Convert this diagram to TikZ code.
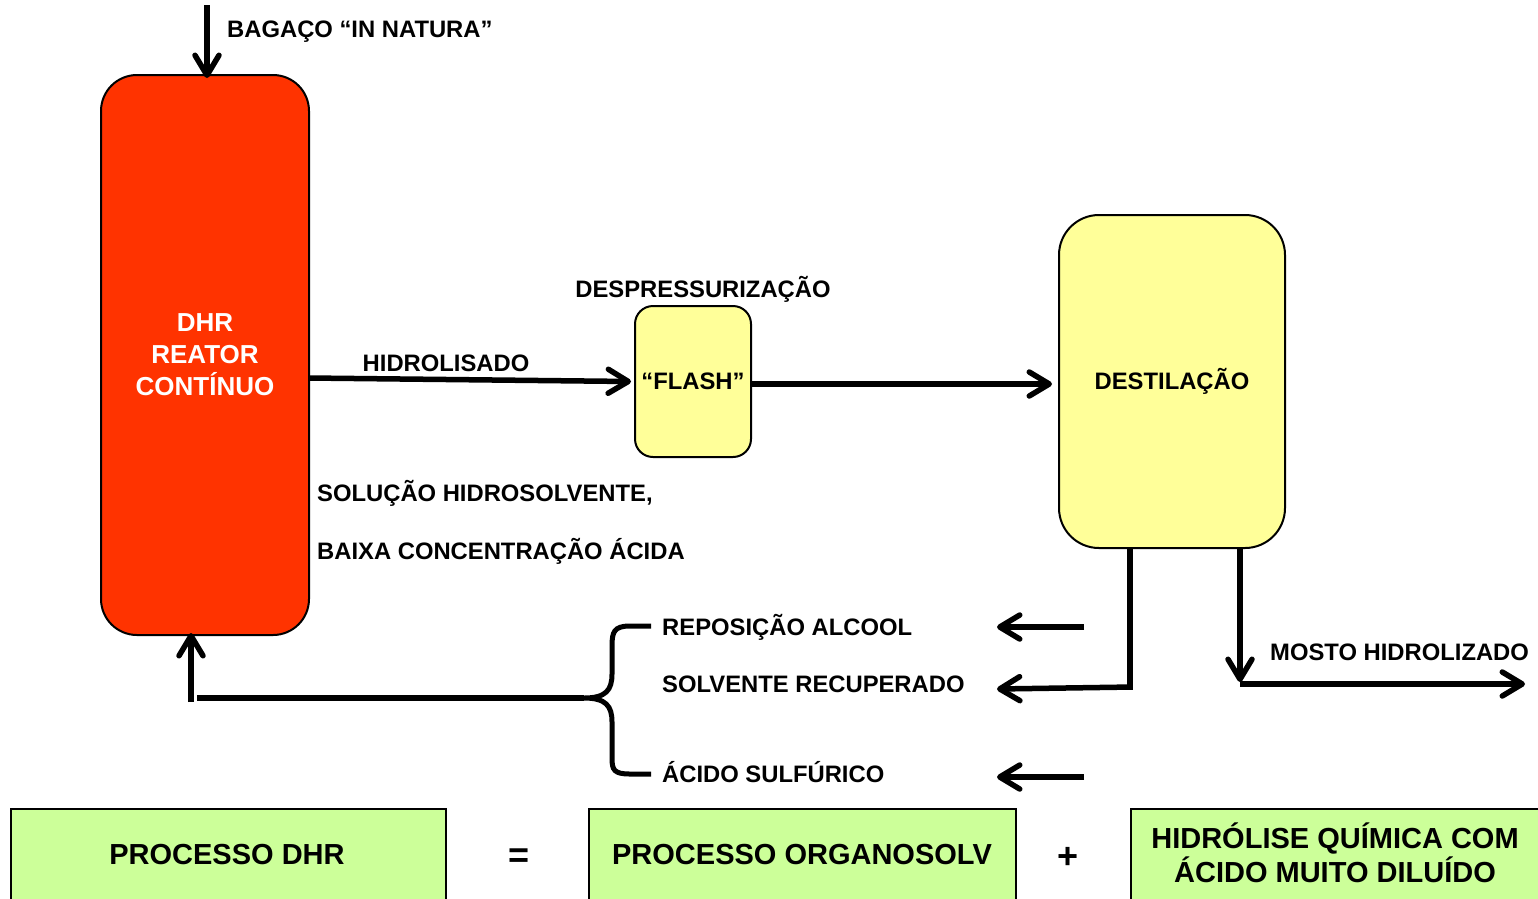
\documentclass[tikz,border=0pt]{standalone}
\usepackage{fontspec}
\setmainfont{Liberation Sans}
\usetikzlibrary{arrows.meta}
\definecolor{reactred}{HTML}{FF3300}
\definecolor{flashyel}{HTML}{FFFF99}
\definecolor{boxgreen}{HTML}{CCFF99}
\tikzset{
  lbl/.style={font=\bfseries\fontsize{23.8}{26}\selectfont, inner sep=0pt},
  arr/.style={line width=5.5pt, -{Straight Barb[round, length=20pt 0,width=24pt 0]}},
  flow/.style={line width=5.5pt},
  reactorbox/.style={draw=black, line width=2pt, fill=reactred, rounded corners=36pt, minimum width=208pt, minimum height=560pt, text=white, align=center, font=\bfseries\fontsize{26}{32}\selectfont},
  flashbox/.style={draw=black, line width=2pt, fill=flashyel, rounded corners=18pt, minimum width=116pt, minimum height=151pt, font=\bfseries\fontsize{23.8}{26}\selectfont},
  destbox/.style={draw=black, line width=2pt, fill=flashyel, rounded corners=40pt, minimum width=226pt, minimum height=333pt, font=\bfseries\fontsize{23.8}{26}\selectfont},
  greenbox/.style={draw=black, line width=1.5pt, fill=boxgreen, minimum height=96pt, anchor=north west, inner sep=0pt},
  bigtxt/.style={font=\bfseries\fontsize{29}{34}\selectfont, align=center, inner sep=0pt},
  optxt/.style={font=\bfseries\fontsize{36}{40}\selectfont, inner sep=0pt}
}
\begin{document}
\begin{tikzpicture}[x=1pt,y=-1pt]
\useasboundingbox (0,0) rectangle (1538,898);
\fill[white] (0,0) rectangle (1538,898);

% main nodes
\node[reactorbox] (dhr) at (205,355) {DHR\\REATOR\\CONTÍNUO};
\node[flashbox] (flash) at (693,381.5) {“FLASH”};
\node[destbox] (dest) at (1172,381.5) {DESTILAÇÃO};

% top input
\coordinate (bagin) at (207,5);
\draw[arr] (bagin) -- (207,78);
\node[lbl, anchor=west] (bagaco) at (227,32) {BAGAÇO “IN NATURA”};

% hidrolisado
\coordinate (hidstart) at (309,378);
\draw[arr] (hidstart) -- ([xshift=-3pt]flash.west);
\node[lbl] (hidlbl) at (446,363) {HIDROLISADO};
\node[lbl] (desplbl) at (703,289) {DESPRESSURIZAÇÃO};

% flash -> destilacao
\draw[arr] ([yshift=-2.5pt]flash.east) -- ([xshift=-6pt,yshift=-2.5pt]dest.west);

% solution labels
\node[lbl, anchor=west] (sol1) at (317,493) {SOLUÇÃO HIDROSOLVENTE,};
\node[lbl, anchor=west] (sol2) at (317,551) {BAIXA CONCENTRAÇÃO ÁCIDA};

% recycle streams
\coordinate (d1) at (1130,548);
\coordinate (d1b) at (1130,687);
\coordinate (solvend) at (997,689);
\draw[flow] (d1) -- (1130,689.75);
\draw[arr] (1132.75,687) -- (solvend);
\coordinate (repstart) at (1084,627);
\coordinate (repend) at (997,627);
\draw[arr] (repstart) -- (repend);
\coordinate (acstart) at (1084,777);
\coordinate (acend) at (997,777);
\draw[arr] (acstart) -- (acend);

\node[lbl, anchor=west] (rep) at (662,627) {REPOSIÇÃO ALCOOL};
\node[lbl, anchor=west] (solv) at (662,684) {SOLVENTE RECUPERADO};
\node[lbl, anchor=west] (acido) at (662,772) {ÁCIDO SULFÚRICO};

% brace
\draw[line width=5pt, line cap=butt]
  (651,626) -- (630,626) .. controls (614,626) and (612,632) .. (612,646)
  -- (612,674) .. controls (612,690) and (606,698) .. (584,698)
  .. controls (606,698) and (612,706) .. (612,722)
  -- (612,758) .. controls (612,770) and (614,774) .. (630,774) -- (651,774);

% return line to reactor
\coordinate (bracetip) at (584,698);
\coordinate (retcorner) at (191,702);
\draw[flow] (bracetip) -- (197,698);
\draw[arr] (retcorner) -- (191,633);

% mosto hidrolizado
\coordinate (m1) at (1240,548);
\coordinate (m2) at (1240,682);
\coordinate (mend) at (1525,684);
\draw[arr] (m1) -- (m2);
\draw[flow, -{Straight Barb[round, length=20pt 0,width=24pt 0]}] (1240,684) -- (mend);
\node[lbl, anchor=west] (mosto) at (1270,652) {MOSTO HIDROLIZADO};

% bottom equation
\node[greenbox, minimum width=435pt] (b1) at (10,808) {};
\node[bigtxt] at (227,854) {PROCESSO DHR};
\node[optxt] (eq) at (519,858) {=};
\node[greenbox, minimum width=427pt] (b2) at (588,808) {};
\node[bigtxt] at (802,854) {PROCESSO ORGANOSOLV};
\node[optxt] (plus) at (1068,858) {+};
\node[greenbox, minimum width=420pt] (b3) at (1130,808) {};
\node[bigtxt] at (1335,853) {HIDRÓLISE QUÍMICA COM\\ÁCIDO MUITO DILUÍDO};
\end{tikzpicture}
\end{document}
